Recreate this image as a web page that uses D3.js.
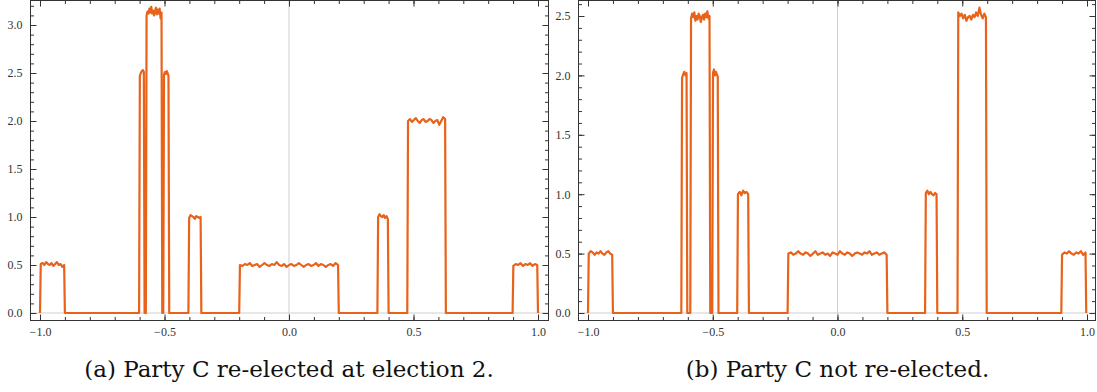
<!DOCTYPE html>
<html>
<head>
<meta charset="utf-8">
<script src="https://cdn.jsdelivr.net/npm/d3@7"></script>
<style>
  body { margin: 0; background: #fff; }
  svg { display: block; }
  .tick text { font-family: "Liberation Serif", serif; font-size: 12px; fill: #333; }
  .tick line { stroke: #333; }
</style>
</head>
<body>
<svg width="1097" height="392"></svg>
<script>
const svg = d3.select('svg');

// major ticks
const xTicks = [-1.0, -0.5, 0.0, 0.5, 1.0];
const yTicksA = [0.0, 0.5, 1.0, 1.5, 2.0, 2.5, 3.0];
const yTicksB = [0.0, 0.5, 1.0, 1.5, 2.0, 2.5];

const captions = ['(a) Party C re-elected at election 2.', '(b) Party C not re-elected.'];

/* panel a : plateau edges and the values read along each plateau */
const edgesA = [[-1.0, -0.9], [-0.602, -0.58], [-0.575, -0.509], [-0.505, -0.481], [-0.404, -0.352],
  [-0.2, 0.2], [0.355, 0.40], [0.475, 0.63], [0.898, 1.0]];
const valuesA = [
  [0.51, 0.52, 0.50, 0.53, 0.51, 0.50, 0.52, 0.49, 0.51, 0.53, 0.50, 0.51, 0.48, 0.50],
  [2.47, 2.50, 2.52, 2.53, 2.51],
  [3.10, 3.14, 3.12, 3.17, 3.13, 3.19, 3.12, 3.15, 3.10, 3.14, 3.18, 3.11, 3.16, 3.12, 3.17, 3.07, 3.13],
  [2.48, 2.51, 2.49, 2.52, 2.50, 2.47],
  [0.99, 1.02, 1.01, 1.00, 0.98, 1.01, 1.00, 0.99, 1.00],
  [0.50, 0.49, 0.51, 0.50, 0.52, 0.49, 0.50, 0.51, 0.48, 0.50, 0.52, 0.50, 0.49, 0.51, 0.50, 0.53, 0.50, 0.49, 0.51, 0.48,
   0.50, 0.51, 0.49, 0.50, 0.52, 0.50, 0.48, 0.50, 0.51, 0.49, 0.50, 0.52, 0.49, 0.51, 0.50, 0.48, 0.50, 0.51, 0.49, 0.52, 0.50],
  [1.00, 1.03, 1.01, 1.00, 1.02, 0.99, 1.01, 0.98],
  [2.00, 2.02, 1.99, 2.01, 2.03, 2.00, 1.98, 2.01, 2.02, 1.99, 2.00, 2.02, 2.01, 1.98, 2.00, 2.01, 1.96, 2.00, 2.04, 2.02],
  [0.49, 0.51, 0.50, 0.52, 0.49, 0.51, 0.50, 0.52, 0.49, 0.51, 0.50]
];

/* panel b */
const edgesB = [[-1.0, -0.9], [-0.626, -0.602], [-0.59, -0.51], [-0.502, -0.477], [-0.402, -0.355],
  [-0.2, 0.2], [0.351, 0.40], [0.481, 0.598], [0.897, 0.997]];
const valuesB = [
  [0.50, 0.52, 0.51, 0.49, 0.51, 0.50, 0.52, 0.50, 0.49, 0.51, 0.52, 0.50, 0.49],
  [1.98, 2.01, 2.03, 2.00, 2.02],
  [2.48, 2.52, 2.49, 2.53, 2.46, 2.50, 2.47, 2.52, 2.50, 2.45, 2.49, 2.51, 2.47, 2.52, 2.49, 2.54, 2.48, 2.50],
  [2.02, 2.05, 2.00, 2.03, 2.01, 1.99],
  [1.00, 1.02, 0.99, 1.03, 1.01, 1.02, 1.00],
  [0.50, 0.51, 0.49, 0.50, 0.52, 0.50, 0.49, 0.51, 0.50, 0.48, 0.50, 0.52, 0.49, 0.50, 0.51, 0.49, 0.50, 0.48, 0.51, 0.50,
   0.49, 0.52, 0.50, 0.49, 0.51, 0.50, 0.48, 0.50, 0.51, 0.50, 0.49, 0.51, 0.50, 0.52, 0.49, 0.50, 0.51, 0.49, 0.50, 0.51, 0.49],
  [1.01, 1.03, 1.00, 1.02, 1.00, 0.99, 1.01, 1.00],
  [2.53, 2.50, 2.52, 2.48, 2.51, 2.46, 2.49, 2.50, 2.47, 2.51, 2.49, 2.53, 2.50, 2.57, 2.51, 2.48, 2.52, 2.49],
  [0.49, 0.51, 0.50, 0.52, 0.50, 0.49, 0.51, 0.50, 0.52, 0.49, 0.51]
];

// line points: each plateau rises from zero, runs along its read values, drops back
const toPoints = (edges, values) => {
  const pts = [];
  const eps = 0.003;
  edges.forEach(([x0, x1], i) => {
    const v = values[i];
    pts.push([x0, 0]);
    v.forEach((val, j) => pts.push([x0 + eps + (x1 - x0 - 2 * eps) * j / (v.length - 1), val]));
    pts.push([x1, 0]);
  });
  return pts;
};

const panel = (cfg) => {
  const {frame, xRange, yRange, yMax, yTicks, edges, values, caption} = cfg;
  const x = d3.scaleLinear().domain([-1, 1]).range(xRange);
  const y = d3.scaleLinear().domain([0, yMax]).range(yRange);
  const g = svg.append('g');

  const xMinor = d3.range(-10, 11).map(d => d / 10);
  const yMinor = d3.range(0, Math.floor(y.invert(frame.top) * 10) + 1).map(d => d / 10);

  // light axes through the origin
  g.append('line')
    .attr('x1', x(0)).attr('x2', x(0))
    .attr('y1', frame.top).attr('y2', frame.bottom)
    .attr('stroke', '#cfcfcf');
  g.append('line')
    .attr('x1', frame.left).attr('x2', frame.right)
    .attr('y1', y(0)).attr('y2', y(0))
    .attr('stroke', '#cfcfcf');

  const addAxis = (axis, tx, ty) => {
    const a = g.append('g').attr('transform', `translate(${tx},${ty})`).call(axis);
    a.select('.domain').remove();
    a.attr('font-family', '"Liberation Serif", serif').attr('font-size', 12);
    a.selectAll('text').style('font-family', '"Liberation Serif", serif').attr('fill', '#333');
    return a;
  };
  // minor ticks
  addAxis(d3.axisBottom(x).tickValues(xMinor).tickSize(-3.5).tickFormat(''), 0, frame.bottom);
  addAxis(d3.axisTop(x).tickValues(xMinor).tickSize(-3.5).tickFormat(''), 0, frame.top);
  addAxis(d3.axisLeft(y).tickValues(yMinor).tickSize(-3.5).tickFormat(''), frame.left, 0);
  addAxis(d3.axisRight(y).tickValues(yMinor).tickSize(-3.5).tickFormat(''), frame.right, 0);
  // major ticks
  addAxis(d3.axisBottom(x).tickValues(xTicks).tickSize(-6).tickPadding(7).tickFormat(d3.format('.1f')), 0, frame.bottom);
  addAxis(d3.axisTop(x).tickValues(xTicks).tickSize(-6).tickFormat(''), 0, frame.top);
  addAxis(d3.axisLeft(y).tickValues(yTicks).tickSize(-6).tickPadding(8).tickFormat(d3.format('.1f')), frame.left, 0);
  addAxis(d3.axisRight(y).tickValues(yTicks).tickSize(-6).tickFormat(''), frame.right, 0);

  g.append('rect')
    .attr('x', frame.left).attr('y', frame.top)
    .attr('width', frame.right - frame.left).attr('height', frame.bottom - frame.top)
    .attr('fill', 'none').attr('stroke', '#333');

  const line = d3.line().x(d => x(d[0])).y(d => y(d[1]));
  g.append('path')
    .datum(toPoints(edges, values))
    .attr('d', line)
    .attr('fill', 'none')
    .attr('stroke', '#e8621a')
    .attr('stroke-width', 2.2)
    .attr('stroke-linejoin', 'round');

  g.append('text')
    .attr('x', x(0)).attr('y', 377)
    .attr('text-anchor', 'middle')
    .style('font-family', '"DejaVu Serif", serif')
    .style('font-size', '23px')
    .attr('fill', '#111')
    .text(caption);
};

panel({
  frame: {left: 30.5, right: 548.5, top: 0.5, bottom: 320.5},
  xRange: [40, 538], yRange: [313, 25], yMax: 3,
  yTicks: yTicksA, edges: edgesA, values: valuesA, caption: captions[0]
});
panel({
  frame: {left: 578.5, right: 1095.5, top: 0.5, bottom: 320.5},
  xRange: [588, 1087], yRange: [313, 16], yMax: 2.5,
  yTicks: yTicksB, edges: edgesB, values: valuesB, caption: captions[1]
});
</script>
</body>
</html>
